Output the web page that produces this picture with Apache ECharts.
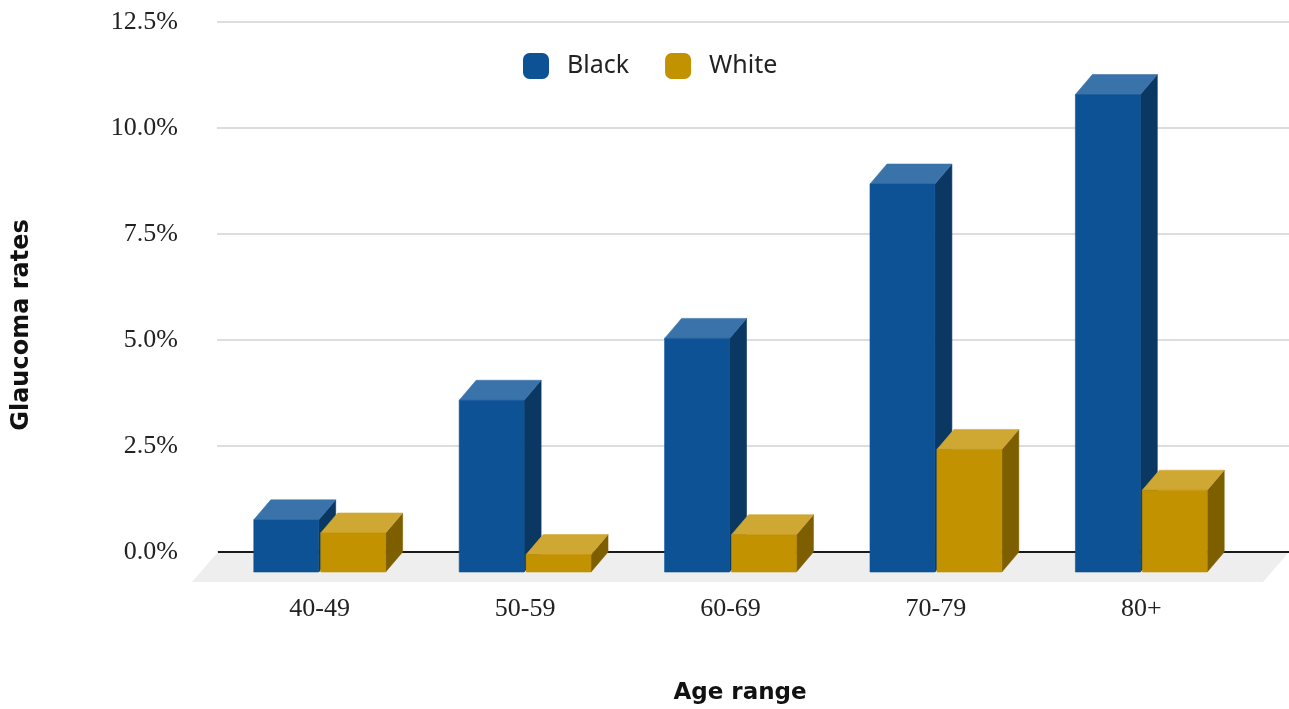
<!DOCTYPE html>
<html>
<head>
<meta charset="utf-8">
<script src="https://cdn.jsdelivr.net/npm/echarts@6/dist/echarts.min.js"></script>
<style>
  html, body { margin: 0; padding: 0; background: #fff; }
  #chart { width: 1289px; height: 709px; }
</style>
</head>
<body>
<div id="chart"></div>
<script>
// Glaucoma prevalence by age range and race (percent)
const ageRanges = ['40-49', '50-59', '60-69', '70-79', '80+'];
const blackRates = [1.23, 4.05, 5.51, 9.15, 11.26];
const whiteRates = [0.92, 0.41, 0.88, 2.89, 1.93];
const seriesNames = ['Black', 'White'];
const yTicks = { min: 0, max: 12.5, interval: 2.5 };

// extrusion of the pseudo-3D boxes (pixels)
const DX = 17, DY = 20;
// floor depth
const FX = 26, FY = 30;

const palettes = [
  { front: '#0E5296', top: '#3A73A9', side: '#0A3863' },
  { front: '#C29200', top: '#CFA834', side: '#7E5F00' }
];

function face(fill) {
  return { fill: fill, stroke: fill, lineWidth: 0.6 };
}

function boxRenderer(seriesIdx) {
  const pal = palettes[seriesIdx];
  return function (params, api) {
    const cat = api.value(0);
    const val = api.value(1);
    const top = api.coord([cat, val]);
    const base = api.coord([cat, 0]);
    const band = api.size([1, 0])[0];
    const bw = band * 0.316;
    const gap = 2;
    const xL = seriesIdx === 0 ? top[0] - gap / 2 - bw : top[0] + gap / 2;
    const yT = top[1] + DY;
    const yB = base[1] + DY;
    return {
      type: 'group',
      children: [
        {
          type: 'polygon',
          shape: { points: [[xL + bw, yT], [xL + bw + DX, yT - DY], [xL + bw + DX, yB - DY], [xL + bw, yB]] },
          style: face(pal.side)
        },
        {
          type: 'polygon',
          shape: { points: [[xL, yT], [xL + bw, yT], [xL + bw + DX, yT - DY], [xL + DX, yT - DY]] },
          style: face(pal.top)
        },
        {
          type: 'rect',
          shape: { x: xL, y: yT, width: bw, height: yB - yT },
          style: face(pal.front)
        }
      ]
    };
  };
}

function floorRenderer(params, api) {
  const cs = params.coordSys;
  const zero = api.coord([0, 0]);
  const x0 = cs.x + 1, x1 = cs.x + cs.width;
  const y = zero[1];
  return {
    type: 'group',
    children: [
      {
        type: 'polygon',
        shape: { points: [[x0, y], [x1, y], [x1 - FX, y + FY], [x0 - FX, y + FY]] },
        style: { fill: '#EEEEEE' }
      },
      {
        type: 'line',
        shape: { x1: x0, y1: y, x2: x1, y2: y },
        style: { stroke: '#1a1a1a', lineWidth: 2 }
      }
    ]
  };
}

const chart = echarts.init(document.getElementById('chart'));
const serifFont = '"Liberation Serif", "Times New Roman", serif';

chart.setOption({
  animation: false,
  backgroundColor: '#fff',
  legend: {
    data: seriesNames,
    left: 523,
    top: 53,
    padding: 0,
    itemWidth: 26,
    itemHeight: 26,
    itemGap: 36,
    icon: 'roundRect',
    textStyle: {
      fontFamily: '"Noto Sans", "Open Sans", sans-serif',
      fontSize: 25,
      color: '#222',
      padding: [0, 0, 0, 13]
    }
  },
  grid: [
    { left: 217, right: 0, top: 22, bottom: 157 },
    { left: 217, right: 45, top: 22, bottom: 157 }
  ],
  xAxis: [
    { gridIndex: 0, type: 'value', min: 0, max: 1, show: false },
    {
      gridIndex: 1,
      type: 'category',
      data: ageRanges,
      axisLine: { show: false },
      axisTick: { show: false },
      axisLabel: { margin: 44, fontFamily: serifFont, fontSize: 26, color: '#222' }
    }
  ],
  yAxis: [
    {
      gridIndex: 0,
      type: 'value',
      min: yTicks.min,
      max: yTicks.max,
      interval: yTicks.interval,
      axisLine: { show: false },
      axisTick: { show: false },
      axisLabel: {
        margin: 39,
        fontFamily: serifFont,
        fontSize: 26,
        color: '#222',
        formatter: v => v.toFixed(1) + '%'
      },
      splitLine: { lineStyle: { color: '#DDDDDD', width: 2 } }
    },
    {
      gridIndex: 1,
      type: 'value',
      min: yTicks.min,
      max: yTicks.max,
      interval: yTicks.interval,
      show: false
    }
  ],
  graphic: [
    {
      type: 'text',
      rotation: Math.PI / 2,
      x: 22, y: 325,
      style: {
        text: 'Glaucoma rates',
        font: 'bold 24px "DejaVu Sans", Verdana, sans-serif',
        fill: '#111',
        textAlign: 'center',
        textVerticalAlign: 'middle'
      }
    },
    {
      type: 'text',
      x: 740, y: 693,
      style: {
        text: 'Age range',
        font: 'bold 23px "DejaVu Sans", Verdana, sans-serif',
        fill: '#111',
        textAlign: 'center',
        textVerticalAlign: 'middle'
      }
    }
  ],
  series: [
    {
      name: 'floor',
      type: 'custom',
      xAxisIndex: 0,
      yAxisIndex: 0,
      data: [[0, 0]],
      renderItem: floorRenderer,
      silent: true,
      z: 1
    },
    {
      name: seriesNames[0],
      type: 'custom',
      xAxisIndex: 1,
      yAxisIndex: 1,
      itemStyle: { color: palettes[0].front },
      data: blackRates.map((v, i) => [i, v]),
      renderItem: boxRenderer(0),
      z: 3
    },
    {
      name: seriesNames[1],
      type: 'custom',
      xAxisIndex: 1,
      yAxisIndex: 1,
      itemStyle: { color: palettes[1].front },
      data: whiteRates.map((v, i) => [i, v]),
      renderItem: boxRenderer(1),
      z: 4
    }
  ]
});
</script>
</body>
</html>
